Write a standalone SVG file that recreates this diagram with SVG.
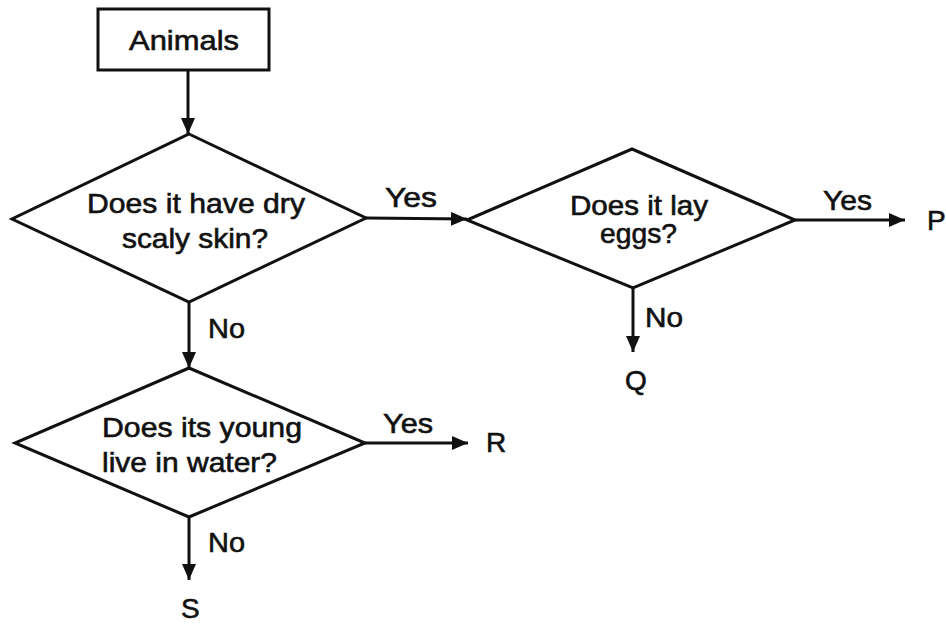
<svg xmlns="http://www.w3.org/2000/svg" width="946" height="626" viewBox="0 0 946 626">
<style>
.shape{fill:#fff;stroke:#111;stroke-width:3;stroke-linejoin:miter}
.conn{stroke:#111;stroke-width:3;fill:none}
text{font-family:"Liberation Sans",Arial,sans-serif;font-size:28px;fill:#111;stroke:#111;stroke-width:0.6}
</style>
<defs>
<marker id="arr" markerUnits="userSpaceOnUse" markerWidth="16" markerHeight="14" refX="16" refY="7" orient="auto">
<path d="M0,0 L16,7 L0,14 Z" fill="#111"/>
</marker>
</defs>
<rect width="946" height="626" fill="#fff"/>
<g id="connectors">
<line class="conn" x1="188" y1="70" x2="188" y2="134" marker-end="url(#arr)"/>
<line class="conn" x1="366" y1="218" x2="467" y2="219" marker-end="url(#arr)"/>
<line class="conn" x1="795" y1="220" x2="905" y2="220" marker-end="url(#arr)"/>
<line class="conn" x1="633" y1="288" x2="633" y2="352" marker-end="url(#arr)"/>
<line class="conn" x1="189" y1="302" x2="189" y2="368" marker-end="url(#arr)"/>
<line class="conn" x1="365" y1="443" x2="468" y2="443" marker-end="url(#arr)"/>
<line class="conn" x1="189" y1="517" x2="189" y2="580" marker-end="url(#arr)"/>
<text x="385" y="207" textLength="52" lengthAdjust="spacingAndGlyphs">Yes</text>
<text x="823" y="210" textLength="49" lengthAdjust="spacingAndGlyphs">Yes</text>
<text x="645" y="327" textLength="38" lengthAdjust="spacingAndGlyphs">No</text>
<text x="208" y="338" textLength="37" lengthAdjust="spacingAndGlyphs">No</text>
<text x="383" y="433" textLength="50" lengthAdjust="spacingAndGlyphs">Yes</text>
<text x="208" y="552" textLength="37" lengthAdjust="spacingAndGlyphs">No</text>
</g>
<g id="animals">
<rect class="shape" x="98" y="9" width="171" height="61"/>
<text x="129" y="50" textLength="110" lengthAdjust="spacingAndGlyphs">Animals</text>
</g>
<g id="q1">
<polygon class="shape" points="189,134 366,218 189,302 12,219"/>
<text x="87" y="213" textLength="218" lengthAdjust="spacingAndGlyphs">Does it have dry</text>
<text x="122" y="248" textLength="146" lengthAdjust="spacingAndGlyphs">scaly skin?</text>
</g>
<g id="q2">
<polygon class="shape" points="632,149 795,220 633,288 467,220"/>
<text x="570" y="215" textLength="138" lengthAdjust="spacingAndGlyphs">Does it lay</text>
<text x="600" y="243" textLength="77" lengthAdjust="spacingAndGlyphs">eggs?</text>
</g>
<g id="q3">
<polygon class="shape" points="189,368 365,443 189,517 15,443"/>
<text x="102" y="437" textLength="200" lengthAdjust="spacingAndGlyphs">Does its young</text>
<text x="102" y="472" textLength="175" lengthAdjust="spacingAndGlyphs">live in water?</text>
</g>
<g id="P"><text x="927" y="230">P</text></g>
<g id="Q"><text x="625" y="390">Q</text></g>
<g id="R"><text x="486" y="452">R</text></g>
<g id="S"><text x="181" y="618">S</text></g>
</svg>
